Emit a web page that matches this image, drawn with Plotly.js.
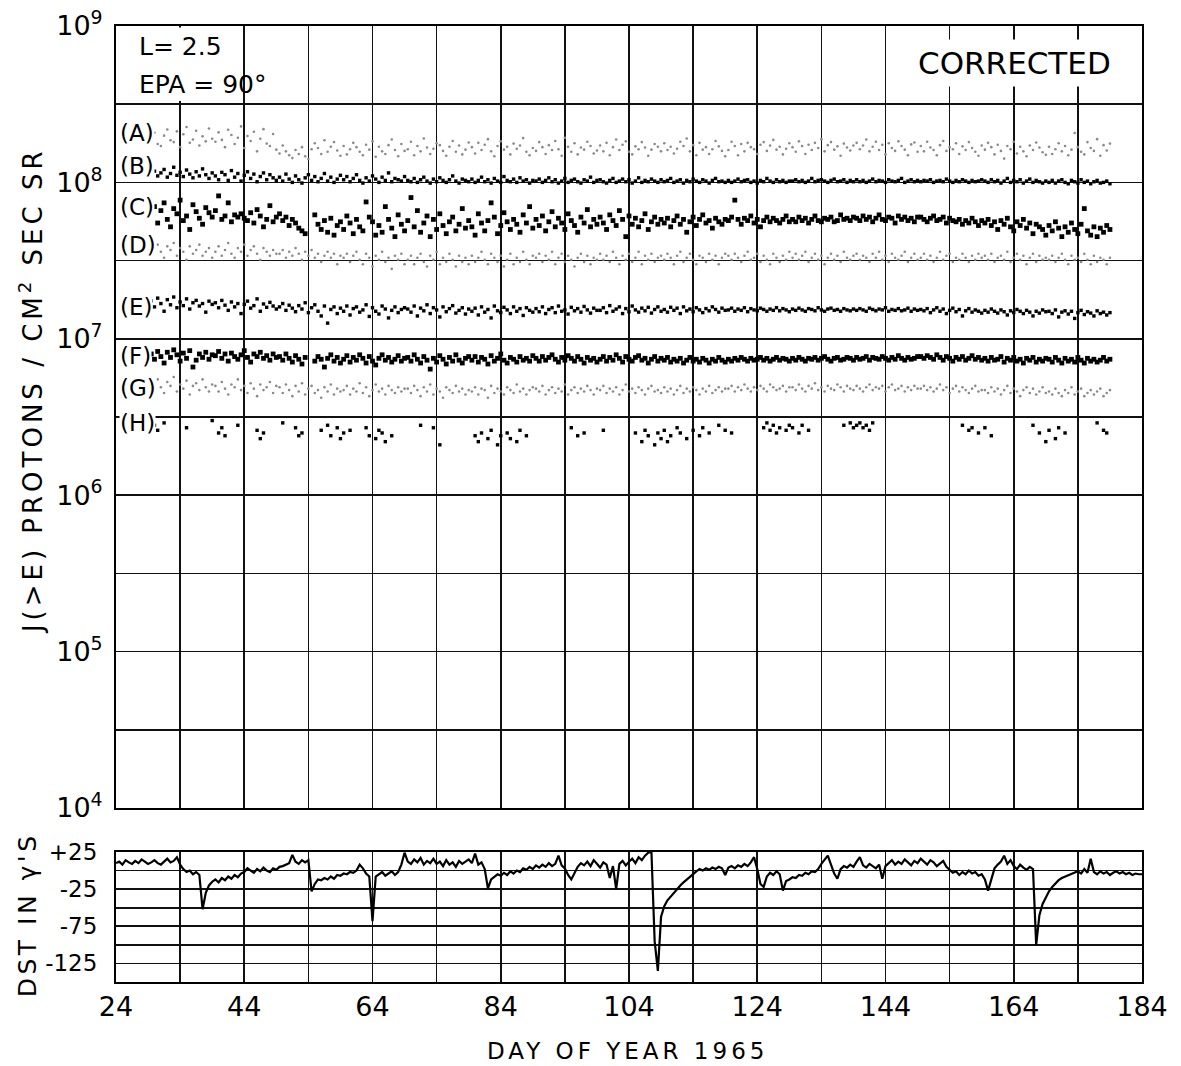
<!DOCTYPE html>
<html>
<head>
<meta charset="utf-8">
<script src="https://cdn.plot.ly/plotly-3.0.1.min.js"></script>
<style>
html,body{margin:0;padding:0;background:#fff;}
#chart{width:1181px;height:1066px;}
</style>
</head>
<body>
<div id="chart"></div>
<script>
// ---- sample days (day of year 1965) shared by the proton channels ----
const days = [
29.5,30,30.5,31,31.5,32,32.5,33,33.5,34,34.5,35,35.5,36,36.5,37,37.5,38,38.5,39,
39.5,40,40.5,41,41.5,42,42.5,43,43.5,44,44.5,45,45.5,46,46.5,47,47.5,48,48.5,49,
49.5,50,50.5,51,51.5,52,52.5,53,53.5,54,54.5,55,55.5,56,56.5,57,57.5,58,58.5,59,
59.5,60,60.5,61,61.5,62,62.5,63,63.5,64,64.5,65,65.5,66,66.5,67,67.5,68,68.5,69,
69.5,70,70.5,71,71.5,72,72.5,73,73.5,74,74.5,75,75.5,76,76.5,77,77.5,78,78.5,79,
79.5,80,80.5,81,81.5,82,82.5,83,83.5,84,84.5,85,85.5,86,86.5,87,87.5,88,88.5,89,
89.5,90,90.5,91,91.5,92,92.5,93,93.5,94,94.5,95,95.5,96,96.5,97,97.5,98,98.5,99,
99.5,100,100.5,101,101.5,102,102.5,103,103.5,104,104.5,105,105.5,106,106.5,107,107.5,108,108.5,109,
109.5,110,110.5,111,111.5,112,112.5,113,113.5,114,114.5,115,115.5,116,116.5,117,117.5,118,118.5,119,
119.5,120,120.5,121,121.5,122,122.5,123,123.5,124,124.5,125,125.5,126,126.5,127,127.5,128,128.5,129,
129.5,130,130.5,131,131.5,132,132.5,133,133.5,134,134.5,135,135.5,136,136.5,137,137.5,138,138.5,139,
139.5,140,140.5,141,141.5,142,142.5,143,143.5,144,144.5,145,145.5,146,146.5,147,147.5,148,148.5,149,
149.5,150,150.5,151,151.5,152,152.5,153,153.5,154,154.5,155,155.5,156,156.5,157,157.5,158,158.5,159,
159.5,160,160.5,161,161.5,162,162.5,163,163.5,164,164.5,165,165.5,166,166.5,167,167.5,168,168.5,169,
169.5,170,170.5,171,171.5,172,172.5,173,173.5,174,174.5,175,175.5,176,176.5,177,177.5,178,178.5,179
];

// (A) flux, units of 1e6 protons/cm2 sec sr
const fluxA = [
193,208,176,171,199,218,186,181,212,168,203,226,179,188,214,172,197,183,221,190,
182,209,187,168,217,201,176,193,228,166,198,184,211,158,190,219,177,171,204,162,
153,172,158,149,143,161,152,168,147,141,163,178,166,152,186,157,169,181,160,148,
171,151,163,179,168,157,149,174,162,183,146,169,158,152,173,188,161,147,176,159,
163,182,149,171,158,191,167,152,164,178,173,159,148,169,184,157,172,151,162,180,
168,153,179,161,174,189,158,147,171,183,162,169,151,177,164,172,192,157,149,166,
159,181,168,152,173,161,184,163,148,193,169,157,178,151,167,162,182,171,153,160,
172,158,179,149,168,188,161,174,183,157,151,170,163,181,167,148,162,176,169,158,
178,161,169,153,164,182,171,191,158,173,149,179,162,168,152,163,184,170,159,147,
161,182,171,149,176,158,179,168,163,152,174,181,159,172,187,162,169,151,164,178,
168,157,183,171,152,174,161,179,166,189,158,173,181,162,170,148,177,167,160,172,
179,163,172,188,158,169,182,161,174,151,178,166,159,183,171,162,149,175,180,157,
171,158,182,167,161,149,173,184,159,168,163,178,152,170,161,181,166,157,148,172,
162,179,168,151,174,159,142,171,163,182,153,169,158,147,172,161,180,167,156,150,
169,152,163,178,158,171,149,162,207,168,157,151,181,166,159,189,148,173,160,177
];

// (B) flux, units of 1e6
const fluxB = [
112,118,110,115,121,108,114,125,111,116,109,120,113,107,117,110,122,112,106,115,
110,104,116,112,103,119,108,114,102,111,117,106,113,101,109,115,104,112,107,103,
108,102,113,105,100,110,104,99,107,112,103,109,101,106,114,102,108,100,105,111,
104,109,101,106,112,103,99,107,102,110,105,100,108,103,115,101,106,104,102,109,
103,101,106,100,104,108,102,99,105,101,107,103,100,104,110,102,99,105,103,101,
105,100,103,108,101,104,99,106,102,100,109,103,101,105,100,107,102,104,99,103,
102,105,100,103,107,101,104,99,102,106,100,103,105,101,99,104,102,108,100,103,
104,101,99,103,106,100,102,105,101,104,99,102,107,100,103,101,105,102,100,104,
101,103,106,100,102,104,99,103,101,105,102,100,104,102,99,103,106,101,102,100,
103,100,102,105,101,103,104,100,102,99,103,101,106,102,100,104,101,103,100,102,
102,104,101,103,100,102,106,101,103,104,102,100,103,105,101,102,104,100,103,101,
104,101,103,100,102,105,101,103,102,100,104,102,101,103,106,100,102,104,101,103,
101,103,102,104,100,102,103,101,105,102,100,103,101,104,102,100,103,101,102,104,
102,100,104,101,103,99,102,106,100,103,101,104,99,102,105,100,103,101,99,102,
100,103,99,102,104,100,98,103,101,99,104,100,102,98,101,103,99,100,102,98
];

// (C) flux, units of 1e6
const fluxC = [
62,70,55,66,74,58,52,68,63,77,57,61,50,72,65,59,54,69,64,60,
66,82,58,61,74,56,62,60,63,59,57,64,55,67,61,52,58,71,56,60,
63,57,60,53,58,55,51,49,47,null,null,62,54,50,57,48,59,46,53,56,
50,61,55,47,58,52,49,75,60,56,46,53,48,70,58,51,45,62,54,49,
57,80,52,66,48,55,61,45,58,50,63,53,47,56,60,49,54,68,51,57,
52,46,63,55,49,57,74,60,47,53,64,56,50,58,54,48,62,55,70,51,
58,53,61,49,56,65,52,59,55,50,63,57,53,48,60,55,67,52,58,54,
60,55,50,62,57,53,66,58,45,61,54,59,52,57,63,50,56,60,54,58,
55,59,52,57,61,54,58,48,56,60,53,58,62,55,57,51,59,56,54,58,
57,60,77,58,54,59,57,61,55,58,52,57,60,56,59,57,55,58,61,56,
58,56,60,57,59,55,58,61,57,56,59,58,60,56,57,62,58,59,57,60,
59,57,61,58,60,56,59,62,58,57,60,59,55,61,58,60,57,59,56,60,
60,58,56,59,61,57,58,60,55,59,57,56,58,54,57,55,59,56,53,57,
55,58,53,56,50,57,54,59,52,49,56,53,58,51,55,47,54,52,50,46,
53,49,56,51,45,52,48,55,50,47,54,68,49,46,52,45,51,48,53,50
];

// (D) flux, units of 1e6
const fluxD = [
38,35,40,36,33,39,37,41,34,38,36,32,39,35,37,40,34,36,38,33,
36,39,34,37,41,35,33,38,36,40,34,37,39,35,32,38,36,34,37,35,
35,37,33,36,34,38,35,32,36,34,37,33,35,31,34,36,33,35,30,34,
33,35,31,34,36,32,30,35,33,29,34,32,36,31,33,28,34,32,35,30,
32,34,30,33,35,31,29,34,32,36,30,33,31,35,32,29,34,31,33,30,
34,31,33,36,32,30,35,33,31,34,29,32,35,30,33,31,36,32,30,34,
33,35,31,34,32,36,30,33,35,31,34,32,29,33,35,31,34,30,33,32,
35,32,34,31,36,33,30,34,32,35,31,33,36,30,34,32,35,31,33,34,
32,35,33,30,34,36,31,33,35,32,30,34,33,31,35,32,34,30,33,35,
34,32,35,33,31,34,36,32,33,35,31,34,32,30,35,33,31,34,32,36,
33,35,32,34,36,31,33,35,32,34,30,33,35,32,34,31,36,33,32,34,
35,32,34,33,31,35,33,36,32,34,31,35,33,32,34,36,31,33,35,32,
33,35,32,34,31,33,36,32,34,35,31,33,32,35,33,31,34,32,35,33,
34,32,35,31,33,34,32,36,31,33,35,32,34,30,33,35,31,34,32,33,
32,34,31,33,35,32,30,34,32,33,31,35,32,30,34,31,33,32,30,33
];

// (E) flux, units of 1e5
const fluxE = [
175,160,182,168,150,178,165,185,158,172,163,180,155,170,176,162,168,148,174,166,
170,158,176,164,152,172,160,168,145,166,174,157,163,180,150,167,159,171,162,155,
160,168,152,164,157,149,163,155,170,147,158,165,150,140,162,126,154,160,145,157,
150,162,142,156,160,148,153,165,139,158,150,144,162,155,136,152,160,147,154,158,
155,148,162,140,157,151,165,145,158,153,138,160,149,156,163,146,152,158,144,155,
150,157,142,160,148,154,136,162,151,147,159,153,145,160,150,156,141,158,152,148,
156,149,160,145,154,158,147,162,150,153,144,159,151,156,148,161,153,146,157,152,
152,158,147,163,150,155,160,145,156,149,162,153,148,157,151,159,146,154,160,150,
154,148,159,152,157,145,160,151,155,149,158,153,147,156,151,160,154,148,157,152,
153,157,150,155,152,158,149,156,153,151,157,154,150,155,152,158,151,156,153,149,
155,152,157,153,150,156,154,151,158,153,150,155,157,152,154,150,156,153,151,155,
152,156,153,150,157,154,151,155,153,158,150,154,152,156,151,153,157,150,155,152,
154,151,156,147,153,158,150,155,145,152,157,149,154,140,151,156,148,153,150,146,
152,148,155,150,146,153,149,142,151,147,154,150,145,152,148,140,150,146,153,149,
150,145,153,138,148,151,144,150,135,147,152,143,149,146,140,151,145,148,142,147
];

// (F) flux, units of 1e5
const fluxF = [
80,74,83,77,70,82,76,85,79,72,81,75,84,66,73,80,76,82,74,79,
78,83,75,80,72,81,77,74,79,84,76,71,80,77,82,75,78,73,80,76,
77,73,80,75,71,78,74,69,76,null,null,72,77,74,66,75,79,72,76,70,
74,78,71,76,73,79,75,70,77,72,68,75,79,73,76,71,74,78,72,75,
76,72,79,74,70,77,73,64,75,71,78,74,69,76,72,79,73,70,75,77,
73,77,71,76,74,69,78,72,75,80,73,70,76,74,71,77,73,75,72,78,
75,72,77,73,76,79,74,71,76,73,78,75,72,77,74,70,76,73,75,71,
74,77,72,76,73,79,75,71,77,74,72,76,78,73,75,70,74,77,72,75,
73,76,71,74,72,75,70,73,76,72,74,71,75,73,70,74,72,76,73,71,
74,72,75,73,76,74,72,75,73,74,76,73,75,72,74,76,73,75,74,72,
75,73,76,74,72,75,74,76,73,75,77,74,72,75,76,73,74,76,75,73,
76,74,75,77,73,76,75,74,77,75,73,76,74,78,75,73,76,74,75,77,
77,75,78,76,74,79,76,73,77,75,72,76,74,77,73,75,78,74,76,73,
75,72,76,73,74,77,71,75,73,76,72,74,70,75,73,76,71,74,72,75,
74,71,76,73,70,75,72,74,71,76,73,70,75,72,74,71,73,76,72,74
];

// (G) flux, units of 1e5
const fluxG = [
52,47,55,49,45,53,50,57,46,51,48,54,44,50,52,47,55,49,46,51,
50,46,53,48,44,51,49,55,47,50,45,52,48,43,51,47,49,53,45,50,
49,45,51,47,43,50,46,52,44,48,50,45,47,42,49,46,51,44,48,46,
47,50,44,48,46,52,45,49,43,47,51,46,48,44,50,47,45,49,46,48,
48,45,50,47,43,49,46,51,44,48,46,42,49,47,45,50,46,48,44,47,
46,49,44,48,47,42,50,45,48,46,44,49,47,45,51,46,48,44,47,49,
48,46,50,44,47,49,45,48,46,51,44,47,49,45,48,46,50,47,44,48,
47,50,45,48,46,49,44,47,51,46,48,45,49,47,44,48,50,46,47,45,
49,46,48,44,47,50,45,48,46,49,47,44,48,46,50,45,47,49,46,48,
48,50,46,49,47,51,48,46,49,47,50,48,46,51,49,47,48,50,46,49,
49,47,51,48,46,50,48,52,47,49,46,50,48,47,51,49,46,50,48,47,
50,48,46,49,51,47,49,48,50,46,49,51,47,48,50,46,49,47,50,48,
48,50,47,49,46,48,51,47,49,45,48,50,46,49,47,45,48,50,46,47,
47,45,49,46,48,44,47,50,45,48,46,43,47,49,45,48,44,46,49,45,
46,44,48,45,43,47,45,49,44,46,48,43,45,47,44,46,48,43,45,47
];

// (H) flux, units of 1e5 (only measured part of the time)
const fluxH = [
null,28,26,null,29,null,null,null,null,null,null,27,null,null,null,null,null,null,null,30,
null,25,27,24,null,null,null,28,null,null,null,null,null,26,23,25,null,null,null,null,
null,29,null,null,null,27,24,25,null,null,null,null,null,26,null,28,24,null,27,23,
25,null,26,null,null,null,null,27,24,null,23,26,25,22,null,24,null,null,null,null,
null,null,null,null,28,null,null,null,27,null,21,null,null,null,null,null,null,null,null,null,
null,24,22,25,null,23,26,null,21,24,null,25,23,null,22,26,null,24,null,null,
null,null,null,null,null,null,null,null,null,null,null,27,null,24,null,25,null,null,null,null,
null,26,null,null,null,null,null,null,null,null,null,25,null,22,26,24,null,21,25,23,
26,22,24,null,27,25,null,23,null,26,null,24,27,null,25,null,null,28,null,26,
null,25,null,null,null,null,null,null,null,null,null,27,29,26,28,25,27,null,26,28,
27,null,25,28,null,26,null,null,null,null,null,null,null,null,null,null,28,null,29,27,
28,29,27,28,26,29,null,null,null,null,null,null,null,null,null,null,null,null,null,null,
null,null,null,null,null,null,null,null,null,null,null,null,null,28,null,26,27,null,25,null,
27,null,24,null,null,null,null,null,null,null,null,null,null,null,null,28,null,25,null,22,
26,null,23,27,null,25,null,null,null,null,null,null,null,null,null,29,null,26,25,null
];

// ---- Dst index (gammas) ----
const dstDays = [
24,24.5,25,25.5,26,26.5,27,27.5,28,28.5,29,29.5,30,30.5,31,31.5,32,32.5,33,33.5,
34,34.5,35,35.5,36,36.5,37,37.5,38,38.5,39,39.5,40,40.5,41,41.5,42,42.5,43,43.5,
44,44.5,45,45.5,46,46.5,47,47.5,48,48.5,49,49.5,50,50.5,51,51.5,52,52.5,53,53.5,
54,54.5,55,55.5,56,56.5,57,57.5,58,58.5,59,59.5,60,60.5,61,61.5,62,62.5,63,63.5,
64,64.5,65,65.5,66,66.5,67,67.5,68,68.5,69,69.5,70,70.5,71,71.5,72,72.5,73,73.5,
74,74.5,75,75.5,76,76.5,77,77.5,78,78.5,79,79.5,80,80.5,81,81.5,82,82.5,83,83.5,
84,84.5,85,85.5,86,86.5,87,87.5,88,88.5,89,89.5,90,90.5,91,91.5,92,92.5,93,93.5,
94,94.5,95,95.5,96,96.5,97,97.5,98,98.5,99,99.5,100,100.5,101,101.5,102,102.5,103,103.5,
104,104.5,105,105.5,106,106.5,107,107.5,108,108.5,109,109.5,110,110.5,111,111.5,112,112.5,113,113.5,
114,114.5,115,115.5,116,116.5,117,117.5,118,118.5,119,119.5,120,120.5,121,121.5,122,122.5,123,123.5,
124,124.5,125,125.5,126,126.5,127,127.5,128,128.5,129,129.5,130,130.5,131,131.5,132,132.5,133,133.5,
134,134.5,135,135.5,136,136.5,137,137.5,138,138.5,139,139.5,140,140.5,141,141.5,142,142.5,143,143.5,
144,144.5,145,145.5,146,146.5,147,147.5,148,148.5,149,149.5,150,150.5,151,151.5,152,152.5,153,153.5,
154,154.5,155,155.5,156,156.5,157,157.5,158,158.5,159,159.5,160,160.5,161,161.5,162,162.5,163,163.5,
164,164.5,165,165.5,166,166.5,167,167.5,168,168.5,169,169.5,170,170.5,171,171.5,172,172.5,173,173.5,
174,174.5,175,175.5,176,176.5,177,177.5,178,178.5,179,179.5,180,180.5,181,181.5,182,182.5,183,183.5,
184
];
const dst = [
10,12,8,14,11,9,13,10,15,12,9,11,14,10,8,12,16,11,13,18,
8,2,-2,0,-5,-2,-6,-52,-30,-20,-15,-12,-16,-10,-13,-8,-11,-6,-9,-4,
-2,3,0,-3,2,-1,4,0,-2,3,1,5,6,8,10,21,12,9,14,11,
14,-28,-18,-12,-13,-10,-12,-8,-11,-6,-7,-4,-5,-2,-3,0,8,3,-4,-8,
-68,-8,-5,-2,-7,-4,-1,-6,-2,8,24,12,9,15,11,17,8,13,10,16,
9,12,6,14,8,11,5,13,9,12,15,10,23,8,11,2,-24,-12,-8,-5,
-7,-3,-6,-1,-4,0,-2,3,1,5,2,7,4,8,5,10,6,9,20,7,
3,-6,-12,-3,5,10,7,12,6,14,9,4,11,8,-10,6,-25,9,13,7,
12,16,10,18,14,20,24,25,-95,-135,-62,-48,-40,-35,-30,-24,-20,-16,-12,-9,
-4,-1,2,0,3,1,4,2,5,3,-6,4,6,3,7,5,9,6,11,18,
2,-18,-22,-8,-3,-6,-1,-5,-27,-14,-12,-9,-10,-6,-7,-3,-5,-1,-2,2,
9,14,20,8,-4,-11,2,6,4,8,5,12,18,7,4,9,6,3,8,-11,
6,10,14,8,12,9,15,11,7,13,10,16,12,8,14,11,6,10,13,5,
1,-3,-1,-6,-2,-5,0,-4,-2,-7,-5,-12,-27,-10,3,8,12,20,9,14,
6,2,8,4,1,5,2,-100,-60,-45,-36,-28,-22,-17,-13,-10,-8,-6,-4,-2,
-1,-4,2,-3,16,-2,-5,-1,-4,-2,-6,-3,-1,-4,-2,-5,-3,-6,-4,-5,
-5
];

// ---- axes / labels ----
const xGrid = [24,34,44,54,64,74,84,94,104,114,124,134,144,154,164,174,184];
const xTickText = ['24','','44','','64','','84','','104','','124','','144','','164','','184'];
const yGrid = [1e4,3.1623e4,1e5,3.1623e5,1e6,3.1623e6,1e7,3.1623e7,1e8,3.1623e8,1e9];
const yTickText = ['10<sup>4</sup>','','10<sup>5</sup>','','10<sup>6</sup>','','10<sup>7</sup>','','10<sup>8</sup>','','10<sup>9</sup>'];
const dstGrid = [-150,-125,-100,-75,-50,-25,0,25];
const dstTickText = ['','-125','','-75','','-25','','+25'];
const channelNames = ['(A)','(B)','(C)','(D)','(E)','(F)','(G)','(H)'];

// ---- build traces ----
const scale = (arr, u) => arr.map(v => (v === null ? null : v * u));
const grey = {color:'#8a8a8a', size:2.6, symbol:'circle'};
const small = {color:'#000', size:3.4, symbol:'square'};
const bold = {color:'#000', size:4.8, symbol:'square'};
function pts(name, vals, unit, marker){
  return {type:'scatter', mode:'markers', name:name, x:days, y:scale(vals, unit),
          xaxis:'x', yaxis:'y', marker:marker, hoverinfo:'x+y'};
}
const traces = [
  pts('A', fluxA, 1e6, grey),
  pts('D', fluxD, 1e6, grey),
  pts('G', fluxG, 1e5, grey),
  pts('B', fluxB, 1e6, small),
  pts('E', fluxE, 1e5, small),
  pts('H', fluxH, 1e5, small),
  pts('C', fluxC, 1e6, bold),
  pts('F', fluxF, 1e5, bold),
  {type:'scatter', mode:'lines', name:'Dst', x:dstDays, y:dst, xaxis:'x2', yaxis:'y2',
   line:{color:'#000', width:2.2}}
];

const FONT = 'DejaVu Sans, Arial, sans-serif';
const gridStyle = {showgrid:true, gridcolor:'#111', gridwidth:1.6, showline:true, mirror:true,
                   linecolor:'#000', linewidth:2, zeroline:false, ticks:''};

const labelY = [0.888, 0.8536, 0.8107, 0.7709, 0.7061, 0.6548, 0.6213, 0.5847];
const annotations = channelNames.map((t, i) => ({
  text:t, xref:'paper', yref:'paper', x:0.003, y:labelY[i], xanchor:'left', yanchor:'middle',
  showarrow:false, font:{family:FONT, size:23, color:'#000'}, bgcolor:'#fff', borderpad:0
}));
annotations.push(
  {text:'L= 2.5', xref:'paper', yref:'paper', x:0.02, y:0.979, xanchor:'left', yanchor:'middle',
   showarrow:false, font:{family:FONT, size:25, color:'#000'}},
  {text:'EPA = 90°', xref:'paper', yref:'paper', x:0.0205, y:0.9383, xanchor:'left', yanchor:'middle',
   showarrow:false, font:{family:FONT, size:25, color:'#000'}},
  {text:'CORRECTED', xref:'paper', yref:'paper', x:0.876, y:0.9613, xanchor:'center', yanchor:'middle',
   showarrow:false, font:{family:FONT, size:31, color:'#000'}, bgcolor:'#fff', borderpad:5},
  {text:'J(>E) PROTONS / CM<sup>2</sup> SEC SR', xref:'paper', yref:'paper', x:-0.083, y:0.619,
   xanchor:'center', yanchor:'middle', textangle:-90, showarrow:false, font:{family:FONT, size:26, color:'#000'}},
  {text:"DST IN γ'S", xref:'paper', yref:'paper', x:-0.087, y:0.070,
   xanchor:'center', yanchor:'middle', textangle:-90, showarrow:false, font:{family:FONT, size:25, color:'#000'}},
  {text:'DAY OF YEAR 1965', xref:'paper', yref:'paper', x:0.499, y:-0.072,
   xanchor:'center', yanchor:'middle', showarrow:false, font:{family:FONT, size:23, color:'#000'}}
);

const layout = {
  width:1181, height:1066,
  margin:{l:116, r:39, t:26, b:84},
  paper_bgcolor:'#fff', plot_bgcolor:'#fff',
  showlegend:false,
  font:{family:FONT, color:'#000', size:24},
  xaxis:Object.assign({domain:[0,1], anchor:'y', range:[24,184], tickmode:'array',
    tickvals:xGrid, showticklabels:false}, gridStyle),
  yaxis:Object.assign({domain:[0.182,1], anchor:'x', type:'log', range:[4,9], tickmode:'array',
    tickvals:yGrid, ticktext:yTickText, tickfont:{family:FONT, size:27, color:'#000'},
    ticklabelstandoff:6}, gridStyle),
  xaxis2:Object.assign({domain:[0,1], anchor:'y2', range:[24,184], tickmode:'array',
    tickvals:xGrid, ticktext:xTickText, tickfont:{family:FONT, size:27, color:'#000'},
    ticklabelstandoff:0}, gridStyle),
  yaxis2:Object.assign({domain:[0,0.136], anchor:'x2', range:[-150,25], tickmode:'array',
    tickvals:dstGrid, ticktext:dstTickText, tickfont:{family:FONT, size:23, color:'#000'},
    ticklabelstandoff:12}, gridStyle),
  shapes:[
    {type:'rect', xref:'x', yref:'paper', x0:33.3, x1:34.7, y0:0.9216, y1:0.9984,
     fillcolor:'#fff', line:{width:0}, layer:'above'}
  ],
  annotations:annotations
};

Plotly.newPlot('chart', traces, layout, {displayModeBar:false, staticPlot:true}).then(gd => {
  const anns = gd.querySelectorAll('g.annotation');
  const spacing = {11:'4px', 12:'3.5px', 13:'4px'};
  anns.forEach((g, i) => {
    if (spacing[i]) {
      const t = g.querySelector('text');
      if (t) t.style.letterSpacing = spacing[i];
    }
  });
});
</script>
</body>
</html>
